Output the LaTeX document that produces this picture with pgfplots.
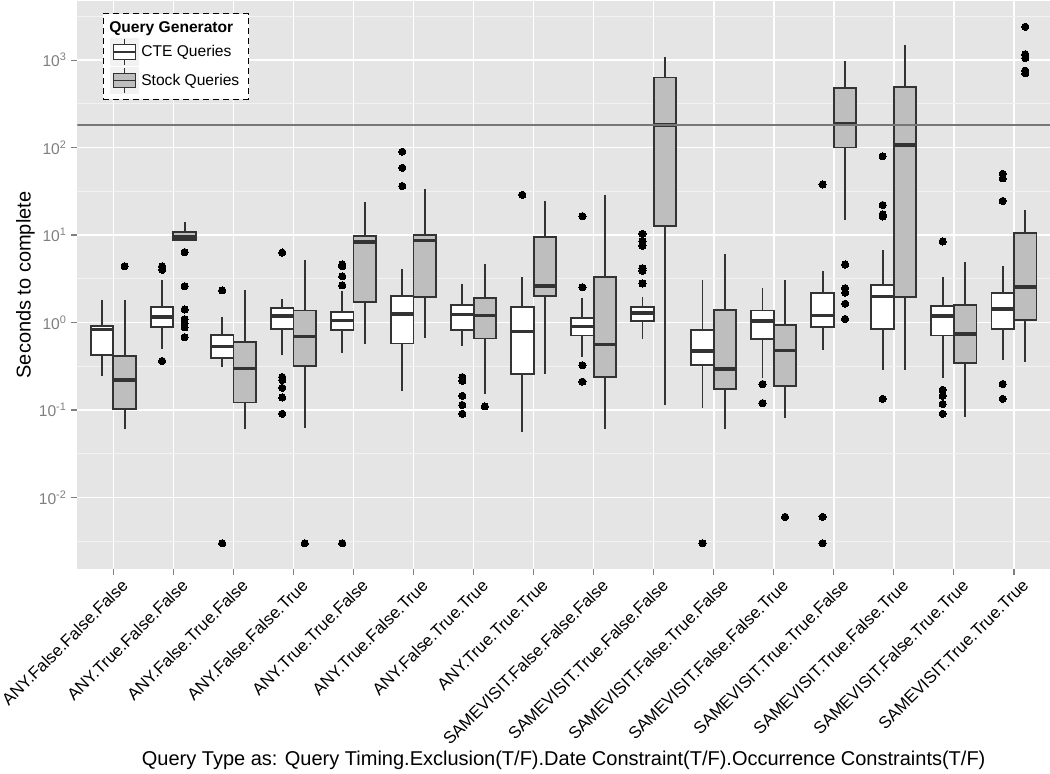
\documentclass[border=0pt]{standalone}
\usepackage{pgfplots}
\pgfplotsset{compat=1.18}
\usepackage{fontspec}
\setmainfont{Liberation Sans}
\definecolor{cdark}{HTML}{333333}
\definecolor{cpanel}{HTML}{E5E5E5}
\definecolor{cminor}{HTML}{F2F2F2}
\definecolor{cstock}{HTML}{BEBEBE}
\definecolor{ctick}{HTML}{7F7F7F}
\definecolor{chline}{HTML}{777777}
% #1 left x, #2 centre x, #3 right x, #4 fill, #5 lower whisker, #6 lower quartile, #7 median, #8 upper quartile, #9 upper whisker
\newcommand{\bplot}[9]{%
  \addplot[forget plot, cdark, line width=1.4pt] coordinates {(#2,#5) (#2,#6)};
  \addplot[forget plot, cdark, line width=1.4pt] coordinates {(#2,#8) (#2,#9)};
  \addplot[forget plot, draw=cdark, fill=#4, line width=1.4pt, line join=miter] coordinates {(#1,#6) (#3,#6) (#3,#8) (#1,#8)} -- cycle;
  \addplot[forget plot, cdark, line width=2.6pt] coordinates {(#1,#7) (#3,#7)};
}
\pgfplotsset{out/.style={forget plot, only marks, mark=*, mark size=2.7pt, mark options={fill=black, draw=black, line width=0pt}}}
\begin{document}
\begin{tikzpicture}
\begin{axis}[
  at={(0,0)}, anchor=south west,
  scale only axis, width=729.5pt, height=426.1pt,
  ymode=log,
  xmin=0.4, xmax=16.6,
  ymin=0.00152, ymax=4742,
  enlargelimits=false,
  axis background/.style={fill=cpanel},
  axis line style={draw=none},
  xtick={1,...,16},
  xticklabels={ANY.False.False.False, ANY.True.False.False, ANY.False.True.False, ANY.False.False.True, ANY.True.True.False, ANY.True.False.True, ANY.False.True.True, ANY.True.True.True, SAMEVISIT.False.False.False, SAMEVISIT.True.False.False, SAMEVISIT.False.True.False, SAMEVISIT.False.False.True, SAMEVISIT.True.True.False, SAMEVISIT.True.False.True, SAMEVISIT.False.True.True, SAMEVISIT.True.True.True},
  ytick={0.01,0.1,1,10,100,1000},
  yticklabels={10\textsuperscript{-2},10\textsuperscript{-1},10\textsuperscript{0},10\textsuperscript{1},10\textsuperscript{2},10\textsuperscript{3}},
  minor ytick={0.00316228,0.0316228,0.316228,3.16228,31.6228,316.228,3162.28},
  xmajorgrids, ymajorgrids, yminorgrids,
  major grid style={white, line width=1.1pt},
  minor grid style={cminor, line width=0.6pt},
  tick align=outside, tick pos=left,
  major tick length=4.5pt, minor tick length=0pt,
  major tick style={ctick, line width=0.8pt},
  xticklabel style={rotate=45, anchor=east, xshift=5.5pt, yshift=-10pt, font=\fontsize{12.6}{15}\selectfont, text=black},
  yticklabel style={font=\fontsize{11.7}{14}\selectfont, text=ctick},
  xlabel={Query Type as: Query Timing.Exclusion(T/F).Date Constraint(T/F).Occurrence Constraints(T/F)},
  ylabel={Seconds to complete},
  xlabel style={at={(axis description cs:0.5,-0.336)}, anchor=center, font=\fontsize{15}{18}\selectfont},
  ylabel style={at={(axis description cs:-0.0533,0.5)}, anchor=center, font=\fontsize{15}{18}\selectfont},
  legend style={at={(0.0261,0.979)}, anchor=north west, draw=black, line width=1.1pt,
    dash pattern=on 4.5pt off 3pt, fill=white, inner xsep=5pt, inner ysep=4pt, row sep=1pt,
    font=\fontsize{11.7}{14}\selectfont},
  legend cell align=left,
]
\addlegendimage{empty legend}
\addlegendentry{\hspace*{-24pt}\textbf{Query Generator}}
\addlegendimage{legend image code/.code={
  \fill[cminor] (0pt,-9.6pt) rectangle (20.3pt,9.6pt);
  \draw[solid, cdark, line width=0.8pt] (10.15pt,-9.6pt) -- (10.15pt,9.6pt);
  \filldraw[solid, fill=white, draw=cdark, line width=0.8pt] (2pt,-5.35pt) rectangle (18.3pt,5.35pt);
  \draw[solid, cdark, line width=0.8pt] (2pt,0pt) -- (18.3pt,0pt);}}
\addlegendentry{CTE Queries}
\addlegendimage{legend image code/.code={
  \fill[cminor] (0pt,-9.6pt) rectangle (20.3pt,9.6pt);
  \draw[solid, cdark, line width=0.8pt] (10.15pt,-9.6pt) -- (10.15pt,9.6pt);
  \filldraw[solid, fill=cstock, draw=cdark, line width=0.8pt] (2pt,-5.35pt) rectangle (18.3pt,5.35pt);
  \draw[solid, cdark, line width=0.8pt] (2pt,0pt) -- (18.3pt,0pt);}}
\addlegendentry{Stock Queries}

% 1
\bplot{0.625}{0.8125}{1}{white}{0.242}{0.43}{0.83}{0.91}{1.81}
\bplot{1}{1.1875}{1.375}{cstock}{0.060}{0.103}{0.219}{0.413}{1.8}
\addplot[out] coordinates {(1.1875,4.39)};
% 2
\bplot{1.625}{1.8125}{2}{white}{0.495}{0.88}{1.15}{1.51}{3.05}
\addplot[out] coordinates {(1.8125,4.39) (1.8125,4.0) (1.8125,0.363)};
\bplot{2}{2.1875}{2.375}{cstock}{8.6}{8.7}{9.44}{10.8}{14.2}
\addplot[out] coordinates {(2.1875,6.38) (2.1875,2.6) (2.1875,1.41) (2.1875,1.09) (2.1875,0.98) (2.1875,0.88) (2.1875,0.68)};
% 3
\bplot{2.625}{2.8125}{3}{white}{0.312}{0.393}{0.53}{0.726}{1.15}
\addplot[out] coordinates {(2.8125,2.33) (2.8125,0.003)};
\bplot{3}{3.1875}{3.375}{cstock}{0.060}{0.122}{0.299}{0.598}{2.33}
% 4
\bplot{3.625}{3.8125}{4}{white}{0.42}{0.85}{1.19}{1.48}{1.85}
\addplot[out] coordinates {(3.8125,6.3) (3.8125,0.238) (3.8125,0.22) (3.8125,0.179) (3.8125,0.139) (3.8125,0.0906)};
\bplot{4}{4.1875}{4.375}{cstock}{0.063}{0.315}{0.697}{1.37}{5.16}
\addplot[out] coordinates {(4.1875,0.003)};
% 5
\bplot{4.625}{4.8125}{5}{white}{0.448}{0.83}{1.06}{1.31}{2.29}
\addplot[out] coordinates {(4.8125,4.6) (4.8125,4.4) (4.8125,3.38) (4.8125,2.66) (4.8125,0.003)};
\bplot{5}{5.1875}{5.375}{cstock}{0.57}{1.71}{8.37}{9.8}{23.8}
% 6
\bplot{5.625}{5.8125}{6}{white}{0.165}{0.575}{1.25}{2.03}{4.09}
\addplot[out] coordinates {(5.8125,89.7) (5.8125,58.7) (5.8125,36.3)};
\bplot{6}{6.1875}{6.375}{cstock}{0.664}{1.96}{8.7}{9.9}{33.8}
% 7
\bplot{6.625}{6.8125}{7}{white}{0.542}{0.818}{1.24}{1.57}{2.79}
\addplot[out] coordinates {(6.8125,0.238) (6.8125,0.215) (6.8125,0.145) (6.8125,0.114) (6.8125,0.0906)};
\bplot{7}{7.1875}{7.375}{cstock}{0.151}{0.656}{1.21}{1.9}{4.62}
\addplot[out] coordinates {(7.1875,0.110)};
% 8
\bplot{7.625}{7.8125}{8}{white}{0.0564}{0.257}{0.785}{1.5}{3.28}
\addplot[out] coordinates {(7.8125,28.8)};
\bplot{8}{8.1875}{8.375}{cstock}{0.26}{2.0}{2.6}{9.6}{24.8}
% 9
\bplot{8.625}{8.8125}{9}{white}{0.405}{0.711}{0.905}{1.13}{1.92}
\addplot[out] coordinates {(8.8125,16.4) (8.8125,2.53) (8.8125,0.324) (8.8125,0.211)};
\bplot{9}{9.1875}{9.375}{cstock}{0.061}{0.238}{0.558}{3.34}{28.8}
% 10
\bplot{9.625}{9.8125}{10}{white}{0.656}{1.04}{1.29}{1.52}{1.98}
\addplot[out] coordinates {(9.8125,10.3) (9.8125,8.45) (9.8125,7.55) (9.8125,4.18) (9.8125,3.9) (9.8125,2.79)};
\bplot{10}{10.1875}{10.375}{cstock}{0.114}{12.6}{181.6}{631}{1088}
% 11
\bplot{10.625}{10.8125}{11}{white}{0.105}{0.327}{0.475}{0.818}{3.05}
\addplot[out] coordinates {(10.8125,0.003)};
\bplot{11}{11.1875}{11.375}{cstock}{0.0604}{0.172}{0.294}{1.38}{6.1}
% 12
\bplot{11.625}{11.8125}{12}{white}{0.235}{0.65}{1.04}{1.37}{2.5}
\addplot[out] coordinates {(11.8125,0.198) (11.8125,0.12)};
\bplot{12}{12.1875}{12.375}{cstock}{0.080}{0.187}{0.48}{0.933}{3.03}
\addplot[out] coordinates {(12.1875,0.006)};
% 13
\bplot{12.625}{12.8125}{13}{white}{0.49}{0.88}{1.21}{2.17}{3.89}
\addplot[out] coordinates {(12.8125,37.8) (12.8125,0.006) (12.8125,0.003)};
\bplot{13}{13.1875}{13.375}{cstock}{14.8}{100}{185}{477}{970}
\addplot[out] coordinates {(13.1875,4.6) (13.1875,2.47) (13.1875,2.2) (13.1875,1.64) (13.1875,1.1)};
% 14
\bplot{13.625}{13.8125}{14}{white}{0.29}{0.85}{1.98}{2.68}{6.78}
\addplot[out] coordinates {(13.8125,79.5) (13.8125,22) (13.8125,17.2) (13.8125,16.3) (13.8125,0.134)};
\bplot{14}{14.1875}{14.375}{cstock}{0.29}{1.96}{106.6}{492}{1486}
% 15
\bplot{14.625}{14.8125}{15}{white}{0.233}{0.711}{1.18}{1.56}{3.31}
\addplot[out] coordinates {(14.8125,8.45) (14.8125,0.17) (14.8125,0.145) (14.8125,0.117) (14.8125,0.0906)};
\bplot{15}{15.1875}{15.375}{cstock}{0.0834}{0.344}{0.74}{1.59}{4.95}
% 16
\bplot{15.625}{15.8125}{16}{white}{0.374}{0.85}{1.42}{2.19}{4.39}
\addplot[out] coordinates {(15.8125,50) (15.8125,44.4) (15.8125,24.5) (15.8125,0.198) (15.8125,0.134)};
\bplot{16}{16.1875}{16.375}{cstock}{0.358}{1.06}{2.55}{10.6}{19.2}
\addplot[out] coordinates {(16.1875,2405) (16.1875,1167) (16.1875,1055) (16.1875,757) (16.1875,706)};

\addplot[forget plot, chline, line width=1.3pt] coordinates {(0.4,180) (16.6,180)};
\end{axis}
\pgfresetboundingbox
\path[use as bounding box] (-58pt,-153pt) rectangle (729.5pt,426.8pt);
\end{tikzpicture}
\end{document}
